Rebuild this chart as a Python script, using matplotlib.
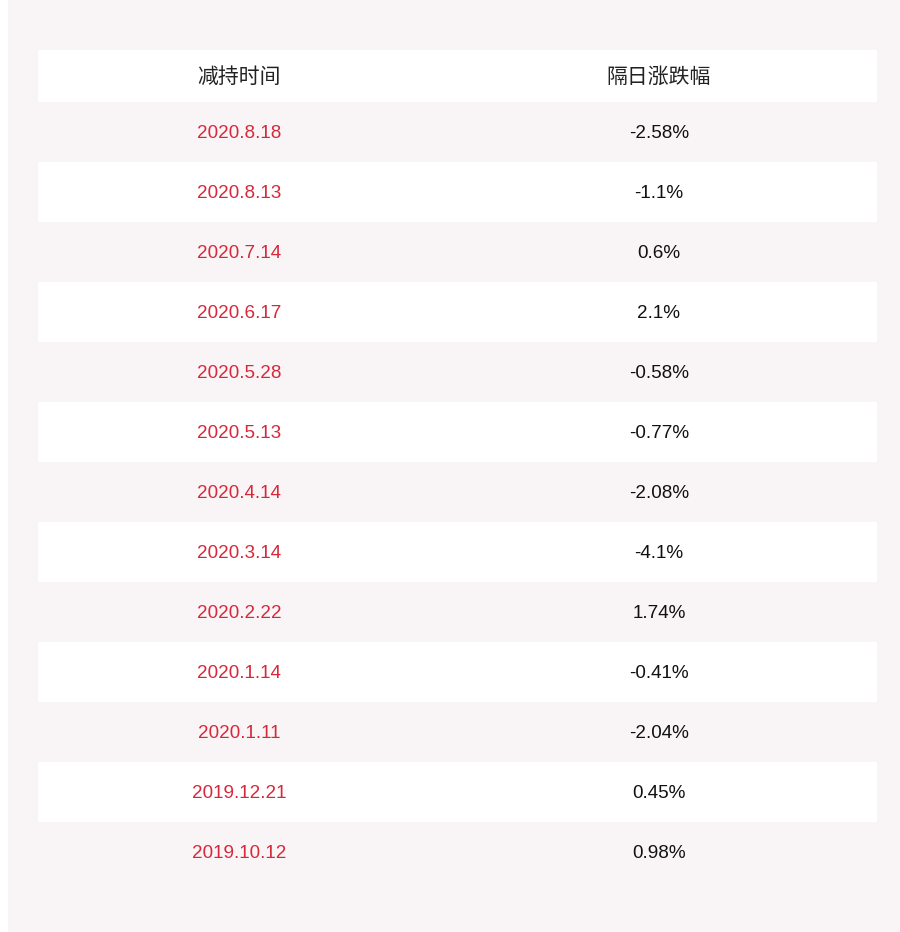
import matplotlib
matplotlib.use("Agg")
import matplotlib.pyplot as plt
from matplotlib.patches import Rectangle

headers = ["减持时间", "隔日涨跌幅"]
dates = ["2020.8.18","2020.8.13","2020.7.14","2020.6.17","2020.5.28","2020.5.13",
         "2020.4.14","2020.3.14","2020.2.22","2020.1.14","2020.1.11","2019.12.21","2019.10.12"]
changes = ["-2.58%","-1.1%","0.6%","2.1%","-0.58%","-0.77%","-2.08%","-4.1%",
           "1.74%","-0.41%","-2.04%","0.45%","0.98%"]

W, H = 900, 932
fig = plt.figure(figsize=(W/100, H/100), dpi=100)
ax = fig.add_axes([0, 0, 1, 1])
ax.set_xlim(0, W); ax.set_ylim(H, 0); ax.axis("off")
bg = "#f9f5f6"
ax.add_patch(Rectangle((8, 0), 892, H, color=bg, lw=0))
x0, x1 = 38, 877
c1, c2 = 239, 659
ax.add_patch(Rectangle((x0, 50), x1-x0, 52, color="white", lw=0))
for cx, h in zip([c1, c2], headers):
    ax.text(cx, 77, h, ha="center", va="center", fontsize=15,
            family=["Noto Sans CJK SC", "DejaVu Sans"], color="#222222")
for i, (d, c) in enumerate(zip(dates, changes)):
    top = 102 + 60*i
    if i % 2 == 1:
        ax.add_patch(Rectangle((x0, top), x1-x0, 60, color="white", lw=0))
    ax.text(c1, top+31.5, d, ha="center", va="center", fontsize=13.6,
            family="Liberation Sans", color="#d7283b")
    ax.text(c2, top+31.5, c, ha="center", va="center", fontsize=13.6,
            family="Liberation Sans", color="#111111")
fig.savefig("out.png", dpi=100)
